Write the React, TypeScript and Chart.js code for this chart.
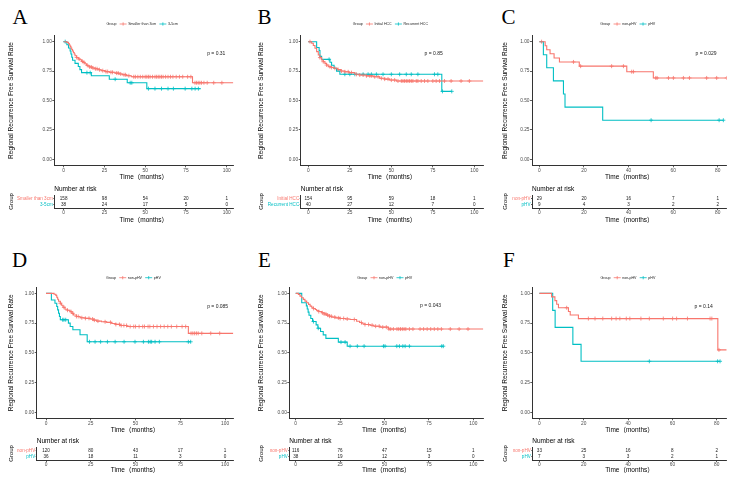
import React, { useEffect, useRef } from 'react';
import { Chart, registerables } from 'chart.js';

Chart.register(...registerables);

const RED = '#F8766D';
const BLUE = '#00BFC4';
const FONT = "'Liberation Sans', Arial, 'Noto Sans CJK SC', sans-serif";
const SERIF = "'Liberation Serif', 'Times New Roman', serif";

const Y_TICKS = [0, 0.25, 0.5, 0.75, 1];
const Y_TITLE = 'Regional Recurrence Free Survival Rate';
const X_TITLE = 'Time（months）';

// ---------------- Panel A ----------------
const A_groups = ['Smaller than 3cm', '3-5cm'];
const A_ticks = [0, 25, 50, 75, 100];
const A1_time = [0, 2, 3, 3.5, 4, 4.5, 5, 5.5, 6, 6.5, 7, 8, 9, 10, 11, 12, 13, 14, 15, 16, 17.5, 19, 21, 23, 25.5, 28, 31.5, 34, 36, 38.5, 41.5, 79];
const A1_surv = [1, 0.994, 0.985, 0.972, 0.96, 0.947, 0.934, 0.921, 0.908, 0.895, 0.88, 0.866, 0.853, 0.846, 0.833, 0.824, 0.812, 0.8, 0.792, 0.785, 0.777, 0.77, 0.762, 0.754, 0.746, 0.74, 0.733, 0.726, 0.719, 0.711, 0.702, 0.651];
const A1_end = 104;
const A1_censor = [8, 9.5, 11.5, 12.5, 14.5, 16, 17, 18, 19.5, 20.5, 22, 24, 26, 27, 29, 30, 32.5, 33.5, 35, 37, 38, 40, 43, 44, 45.5, 47, 48.5, 50, 51, 52, 53, 54.5, 56, 57, 58, 59, 60, 61, 62.5, 64, 65.5, 67, 69, 71, 73, 76, 78, 80.5, 81.5, 82.5, 83.5, 84.5, 86, 88, 92, 97];
const A2_time = [0, 2, 3, 4, 4.5, 5, 5.5, 7, 9, 10, 11, 17, 28, 39, 51];
const A2_surv = [1, 0.974, 0.947, 0.921, 0.895, 0.868, 0.842, 0.816, 0.789, 0.763, 0.737, 0.711, 0.681, 0.651, 0.601];
const A2_end = 84;
const A2_censor = [1, 14.3, 16.3, 31.6, 40.8, 41.8, 52, 56, 60, 64, 67.3, 74.5, 78.6, 80.6, 82.6];
const A1_risk = [158, 98, 54, 20, 1];
const A2_risk = [38, 24, 17, 5, 0];
const A_pval = 'p = 0.31';
const A_pvalAt = [88, 0.9];

// ---------------- Panel B ----------------
const B_groups = ['Initial HCC', 'Recurrent HCC'];
const B_ticks = [0, 25, 50, 75, 100];
const B1_time = [0, 2, 3, 4, 5, 6, 7, 8, 9, 10, 11, 12, 14, 15.5, 17.5, 19.5, 22, 24.5, 28, 31, 35, 39, 43, 46, 49, 53];
const B1_surv = [1, 0.987, 0.968, 0.944, 0.916, 0.887, 0.865, 0.844, 0.83, 0.816, 0.802, 0.788, 0.781, 0.774, 0.763, 0.751, 0.744, 0.737, 0.723, 0.717, 0.71, 0.702, 0.689, 0.682, 0.674, 0.666];
const B1_end = 105.4;
const B1_censor = [1, 7, 9, 11, 13, 14, 16, 18, 20, 22, 24, 26, 29, 31, 33, 35, 37, 38, 40, 42, 44, 46, 48, 50, 52, 54, 56, 57, 58, 59, 60, 61, 62, 63, 65, 66, 68, 70, 72, 75, 77, 79, 82, 86, 92, 97];
const B2_time = [0, 5, 6.5, 7, 8, 13, 14, 15.5, 17, 19, 80.4];
const B2_surv = [1, 0.95, 0.925, 0.875, 0.85, 0.825, 0.8, 0.775, 0.75, 0.723, 0.578];
const B2_end = 86.4;
const B2_censor = [12.5, 22, 25, 28, 33, 36, 38, 41, 45, 50, 55, 59, 62, 66, 76, 78, 80.8, 86.4];
const B1_risk = [154, 95, 59, 18, 1];
const B2_risk = [40, 27, 12, 7, 0];
const B_pval = 'p = 0.85';
const B_pvalAt = [70, 0.9];

// ---------------- Panel C ----------------
const C_groups = ['non-pHV', 'pHV'];
const C_ticks = [0, 20, 40, 60, 80];
const C1_time = [0, 2.6, 3.3, 4.8, 6.6, 9, 17.9, 39.2, 51.1];
const C1_surv = [1, 0.966, 0.931, 0.897, 0.862, 0.828, 0.792, 0.745, 0.692];
const C1_end = 84;
const C1_censor = [1, 15.3, 18.5, 32.4, 37.7, 41.4, 42.2, 52.2, 52.8, 57.9, 60.1, 64.6, 67.3, 75, 79.5, 84];
const C2_time = [0, 1.8, 3.3, 6.3, 10.8, 11.5, 28.4];
const C2_surv = [1, 0.889, 0.778, 0.667, 0.556, 0.444, 0.333];
const C2_end = 82.5;
const C2_censor = [50.1, 80.6, 82.5];
const C1_risk = [29, 20, 16, 7, 1];
const C2_risk = [9, 4, 3, 2, 2];
const C_pval = 'p = 0.029';
const C_pvalAt = [70, 0.9];

// ---------------- Panel D ----------------
const D_groups = ['non-pHV', 'pHV'];
const D_ticks = [0, 25, 50, 75, 100];
const D1_time = [0, 4.5, 5.5, 6, 6.5, 7, 8, 8.7, 9.5, 10.6, 12, 13.4, 14.5, 15.3, 17, 19, 22, 24.6, 26.5, 28.3, 31, 33.9, 36.7, 39, 41.3, 45.1, 79.5];
const D1_surv = [1, 0.992, 0.983, 0.967, 0.95, 0.933, 0.917, 0.9, 0.883, 0.867, 0.858, 0.846, 0.832, 0.818, 0.806, 0.795, 0.79, 0.784, 0.775, 0.767, 0.761, 0.756, 0.747, 0.739, 0.73, 0.721, 0.664];
const D1_end = 104.6;
const D1_censor = [8, 10, 12, 14, 15, 17, 18, 20, 22, 24, 26, 27, 29, 33, 36, 39, 41, 42, 43.5, 45, 47, 49, 50, 52, 54, 55, 57, 58, 60, 62, 64, 66, 68, 70, 73, 76, 78, 81, 82, 83, 84, 85, 87, 92, 97];
const D2_time = [0, 3, 5, 6, 6.5, 7, 7.5, 8, 12.5, 13.5, 15, 19, 23];
const D2_surv = [1, 0.944, 0.917, 0.889, 0.861, 0.833, 0.806, 0.778, 0.75, 0.722, 0.694, 0.652, 0.593];
const D2_end = 81;
const D2_censor = [9.3, 10, 11, 24.3, 27.4, 30.5, 34.3, 38.6, 43.6, 49.7, 54.4, 57.2, 58.2, 59, 60.9, 63.3, 79.5, 80.8];
const D1_risk = [120, 80, 43, 17, 1];
const D2_risk = [36, 18, 11, 3, 0];
const D_pval = 'p = 0.085';
const D_pvalAt = [90, 0.89];

// ---------------- Panel E ----------------
const E_groups = ['non-pHV', 'pHV'];
const E_ticks = [0, 25, 50, 75, 100];
const E1_time = [0, 1.5, 2.4, 3.3, 4.3, 5.2, 6.2, 7.2, 8.1, 9, 9.9, 11, 11.8, 13, 14.6, 16, 17.4, 19, 20.3, 22.5, 24.9, 28, 30.6, 34.3, 36, 37.1, 39, 41.8, 44, 47.5, 52.2];
const E1_surv = [1, 0.991, 0.977, 0.963, 0.949, 0.935, 0.921, 0.907, 0.893, 0.883, 0.873, 0.864, 0.856, 0.847, 0.837, 0.827, 0.817, 0.808, 0.8, 0.794, 0.789, 0.785, 0.78, 0.766, 0.755, 0.744, 0.738, 0.732, 0.724, 0.716, 0.7];
const E1_end = 105.6;
const E1_censor = [10, 13, 15, 16, 17, 18, 19, 20, 22, 24, 25, 27, 29, 33, 37, 39, 41, 43, 45, 47, 49, 51, 52.5, 53.5, 55, 57, 58, 59, 60, 61, 62, 64, 66, 70, 72, 74, 76, 78, 80, 82, 87, 92, 97];
const E2_time = [0, 3.4, 6, 6.5, 7, 7.5, 8.5, 9.5, 11.5, 12.5, 14, 15.5, 17, 24, 29];
const E2_surv = [1, 0.921, 0.895, 0.868, 0.842, 0.816, 0.789, 0.763, 0.735, 0.707, 0.679, 0.651, 0.622, 0.59, 0.556];
const E2_end = 83.1;
const E2_censor = [10, 12.7, 25.5, 27.8, 30.6, 34.7, 38.5, 49.4, 50.3, 56.9, 58.4, 60.3, 61.6, 64, 82.2, 83.1];
const E1_risk = [116, 76, 47, 15, 1];
const E2_risk = [38, 19, 12, 3, 0];
const E_pval = 'p = 0.043';
const E_pvalAt = [70, 0.9];

// ---------------- Panel F ----------------
const F_groups = ['non-pHV', 'pHV'];
const F_ticks = [0, 20, 40, 60, 80];
const F1_time = [0, 5.5, 7, 7.8, 8.6, 13.1, 13.9, 17.6, 80.5];
const F1_surv = [1, 0.97, 0.939, 0.909, 0.879, 0.848, 0.818, 0.788, 0.525];
const F1_end = 84.5;
const F1_censor = [12.3, 22.1, 25.1, 28.6, 32.6, 34.6, 36.3, 39.2, 40.8, 45.8, 49.6, 55.9, 60.1, 61.9, 66.8, 77, 77.8, 81];
const F2_time = [0, 6, 7.1, 15.1, 18.8];
const F2_surv = [1, 0.857, 0.714, 0.571, 0.429];
const F2_end = 81.5;
const F2_censor = [49.6, 80.4, 81.5];
const F1_risk = [33, 25, 16, 8, 2];
const F2_risk = [7, 3, 3, 2, 1];
const F_pval = 'p = 0.14';
const F_pvalAt = [70, 0.89];

type Series = { label: string; color: string; time: number[]; surv: number[]; end: number; censor: number[]; risk: number[] };
type PanelData = { letter: string; series: Series[]; ticks: number[]; pval: string; pvalAt: number[] };
type Layout = {
  x0: number; L: number; R: number; T: number; B: number; xmin: number; xmax: number;
  tT: number; tB: number; titleX: number; kmGap: number; tblGap: number;
  letterX: number; letterBase: number; legendDy: number;
};

const mk = (label: string, color: string, time: number[], surv: number[], end: number, censor: number[], risk: number[]): Series =>
  ({ label, color, time, surv, end, censor, risk });

const PANELS: PanelData[] = [
  { letter: 'A', ticks: A_ticks, pval: A_pval, pvalAt: A_pvalAt, series: [
    mk(A_groups[0], RED, A1_time, A1_surv, A1_end, A1_censor, A1_risk),
    mk(A_groups[1], BLUE, A2_time, A2_surv, A2_end, A2_censor, A2_risk)] },
  { letter: 'B', ticks: B_ticks, pval: B_pval, pvalAt: B_pvalAt, series: [
    mk(B_groups[0], RED, B1_time, B1_surv, B1_end, B1_censor, B1_risk),
    mk(B_groups[1], BLUE, B2_time, B2_surv, B2_end, B2_censor, B2_risk)] },
  { letter: 'C', ticks: C_ticks, pval: C_pval, pvalAt: C_pvalAt, series: [
    mk(C_groups[0], RED, C1_time, C1_surv, C1_end, C1_censor, C1_risk),
    mk(C_groups[1], BLUE, C2_time, C2_surv, C2_end, C2_censor, C2_risk)] },
  { letter: 'D', ticks: D_ticks, pval: D_pval, pvalAt: D_pvalAt, series: [
    mk(D_groups[0], RED, D1_time, D1_surv, D1_end, D1_censor, D1_risk),
    mk(D_groups[1], BLUE, D2_time, D2_surv, D2_end, D2_censor, D2_risk)] },
  { letter: 'E', ticks: E_ticks, pval: E_pval, pvalAt: E_pvalAt, series: [
    mk(E_groups[0], RED, E1_time, E1_surv, E1_end, E1_censor, E1_risk),
    mk(E_groups[1], BLUE, E2_time, E2_surv, E2_end, E2_censor, E2_risk)] },
  { letter: 'F', ticks: F_ticks, pval: F_pval, pvalAt: F_pvalAt, series: [
    mk(F_groups[0], RED, F1_time, F1_surv, F1_end, F1_censor, F1_risk),
    mk(F_groups[1], BLUE, F2_time, F2_surv, F2_end, F2_censor, F2_risk)] },
];

const TOP = { T: 35.8, B: 165.3, tT: 195, tB: 208, kmGap: 12.4, tblGap: 12.7, letterBase: 25, legendDy: 11.8 };
const BOT = { T: 287.4, B: 418.3, tT: 447, tB: 460, kmGap: 12.4, tblGap: 10, letterBase: 267.3, legendDy: 9.7 };

const LAYOUTS: Layout[] = [
  { ...TOP, x0: 0, L: 54.3, R: 233.3, xmin: -5.7, xmax: 104, titleX: 11.7, letterX: 12.5 },
  { ...TOP, x0: 245, L: 300.7, R: 483.3, xmin: -4.6, xmax: 105.4, titleX: 16.7, letterX: 257.5 },
  { ...TOP, x0: 490, L: 532, R: 726.7, xmin: -3.3, xmax: 84, titleX: 15, letterX: 501.5 },
  { ...BOT, x0: 0, L: 36.7, R: 233.3, xmin: -5.2, xmax: 104.6, titleX: 11.7, letterX: 12 },
  { ...BOT, x0: 245, L: 289.3, R: 483.3, xmin: -3.6, xmax: 105.6, titleX: 16, letterX: 258 },
  { ...BOT, x0: 490, L: 532.3, R: 726.7, xmin: -3.2, xmax: 84.5, titleX: 15, letterX: 503 },
];

function survAt(time: number[], surv: number[], t: number) {
  let s = surv[0];
  for (let i = 0; i < time.length; i++) if (time[i] <= t) s = surv[i];
  return s;
}

function geom(lay: Layout) {
  const cl = lay.x0;
  const cw = Math.ceil(lay.R + 8 - cl);
  const kt = Math.floor(lay.T - 20);
  const kh = Math.ceil(lay.B + lay.kmGap + 4 - kt);
  const tt = Math.floor(lay.tT - 13);
  const th = Math.ceil(lay.tB + lay.tblGap + 4 - tt);
  return { cl, cw, kt, kh, tt, th };
}

const kmLegendPlugin = {
  id: 'kmLegend',
  afterDraw(chart: any, _a: any, o: any) {
    const { ctx, chartArea: ca } = chart;
    ctx.save();
    ctx.font = `${o.size}px ${FONT}`;
    ctx.textBaseline = 'middle';
    ctx.textAlign = 'left';
    const gap = 1.6, sym = 7;
    const titleW = ctx.measureText(o.title).width;
    let w = titleW + gap * 2;
    o.items.forEach((it: any) => { w += sym + gap + ctx.measureText(it.label).width + gap * 2; });
    let x = (ca.left + ca.right) / 2 - w / 2;
    const y = ca.top - o.dy;
    ctx.fillStyle = '#1a1a1a';
    ctx.fillText(o.title, x, y);
    x += titleW + gap * 2;
    o.items.forEach((it: any) => {
      ctx.strokeStyle = it.color;
      ctx.lineWidth = 0.8;
      ctx.beginPath();
      ctx.moveTo(x, y); ctx.lineTo(x + sym, y);
      ctx.moveTo(x + sym / 2, y - 1.6); ctx.lineTo(x + sym / 2, y + 1.6);
      ctx.stroke();
      x += sym + gap;
      ctx.fillStyle = '#1a1a1a';
      ctx.fillText(it.label, x, y);
      x += ctx.measureText(it.label).width + gap * 2;
    });
    ctx.restore();
  },
};

const pvalPlugin = {
  id: 'pval',
  afterDatasetsDraw(chart: any, _a: any, o: any) {
    const { ctx, scales } = chart;
    ctx.save();
    ctx.font = `${o.size}px ${FONT}`;
    ctx.fillStyle = '#1a1a1a';
    ctx.textBaseline = 'middle';
    ctx.textAlign = 'left';
    ctx.fillText(o.text, scales.x.getPixelForValue(o.at[0]), scales.y.getPixelForValue(o.at[1]));
    ctx.restore();
  },
};

const riskPlugin = {
  id: 'risk',
  afterDatasetsDraw(chart: any, _a: any, o: any) {
    const { ctx, chartArea: ca } = chart;
    ctx.save();
    ctx.font = `${o.numSize}px ${FONT}`;
    ctx.fillStyle = '#1a1a1a';
    ctx.textAlign = 'center';
    ctx.textBaseline = 'middle';
    chart.data.datasets.forEach((ds: any, i: number) => {
      const meta = chart.getDatasetMeta(i);
      meta.data.forEach((el: any, j: number) => ctx.fillText(String(ds.counts[j]), el.x, el.y));
    });
    ctx.textAlign = 'left';
    ctx.fillStyle = '#000';
    ctx.font = `${o.headSize}px ${FONT}`;
    ctx.fillText(o.head, ca.left, ca.top - o.headDy);
    ctx.translate(o.titleX, (ca.top + ca.bottom) / 2);
    ctx.rotate(-Math.PI / 2);
    ctx.textAlign = 'center';
    ctx.font = `${o.groupSize}px ${FONT}`;
    ctx.fillText('Group', 0, 0);
    ctx.restore();
  },
};

function xScale(lay: Layout, ticks: number[], height: number, gap: number) {
  return {
    type: 'linear',
    min: lay.xmin,
    max: lay.xmax,
    afterBuildTicks: (s: any) => { s.ticks = ticks.map((v) => ({ value: v })); },
    afterFit: (s: any) => { s.height = height; },
    grid: { display: true, drawOnChartArea: false, drawTicks: true, tickLength: 2, color: '#333', tickColor: '#333', lineWidth: 0.8 },
    border: { display: true, color: '#333', width: 1 },
    ticks: { font: { size: 4.8, family: FONT }, color: '#4d4d4d', padding: 0, maxRotation: 0, autoSkip: false, callback: (v: any) => String(v) },
    title: { display: true, text: X_TITLE, color: '#000', font: { size: 6.5, family: FONT, lineHeight: 1 }, padding: { top: 0, bottom: Math.max(0, height - gap - 3.25) } },
  };
}

function kmConfig(d: PanelData, lay: Layout, g: any): any {
  const lines = d.series.map((s) => ({
    label: s.label,
    data: [...s.time.map((t, i) => ({ x: t, y: s.surv[i] })), { x: s.end, y: s.surv[s.surv.length - 1] }],
    showLine: true, stepped: true, borderColor: s.color, backgroundColor: s.color,
    borderWidth: 1.1, pointRadius: 0, fill: false, tension: 0,
  }));
  const marks = d.series.map((s) => ({
    label: s.label + ' censor',
    data: s.censor.map((t) => ({ x: t, y: survAt(s.time, s.surv, t) })),
    showLine: false, pointStyle: 'cross', pointRadius: 2, borderWidth: 0.8,
    borderColor: s.color, backgroundColor: s.color,
  }));
  const xh = g.kt + g.kh - lay.B;
  return {
    type: 'scatter',
    data: { datasets: [...lines, ...marks] },
    options: {
      responsive: false, animation: false, events: [],
      layout: { padding: { left: 0, top: lay.T - g.kt, right: g.cl + g.cw - lay.R, bottom: 0 } },
      plugins: {
        legend: { display: false }, tooltip: { enabled: false },
        kmLegend: { title: 'Group', size: 3.6, dy: lay.legendDy, items: d.series.map((s) => ({ label: s.label, color: s.color })) },
        pval: { text: d.pval, at: d.pvalAt, size: 5 },
      },
      scales: {
        x: xScale(lay, d.ticks, xh, lay.kmGap),
        y: {
          type: 'linear', min: -0.05, max: 1.05,
          afterBuildTicks: (s: any) => { s.ticks = Y_TICKS.map((v) => ({ value: v })); },
          afterFit: (s: any) => { s.width = lay.L - g.cl; },
          grid: { display: true, drawOnChartArea: false, drawTicks: true, tickLength: 2, color: '#333', tickColor: '#333', lineWidth: 0.8 },
          border: { display: true, color: '#333', width: 1 },
          ticks: { font: { size: 4.8, family: FONT }, color: '#4d4d4d', padding: 0.5, callback: (v: any) => Number(v).toFixed(2) },
          title: { display: true, text: Y_TITLE, color: '#000', font: { size: 6.5, family: FONT, lineHeight: 1 }, padding: { top: lay.titleX - 3.25, bottom: 0 } },
        },
      },
    },
    plugins: [kmLegendPlugin, pvalPlugin],
  };
}

function tblConfig(d: PanelData, lay: Layout, g: any): any {
  const labels = d.series.map((s) => s.label);
  const colors = d.series.map((s) => s.color);
  const datasets = d.series.map((s, i) => ({
    label: s.label,
    data: d.ticks.map((t) => ({ x: t, y: 2 - i })),
    counts: s.risk,
    showLine: false, pointRadius: 0,
  }));
  const xh = g.tt + g.th - lay.tB;
  return {
    type: 'scatter',
    data: { datasets },
    options: {
      responsive: false, animation: false, events: [],
      layout: { padding: { left: 0, top: lay.tT - g.tt, right: g.cl + g.cw - lay.R, bottom: 0 } },
      plugins: {
        legend: { display: false }, tooltip: { enabled: false },
        risk: { numSize: 4.6, head: 'Number at risk', headSize: 6.5, headDy: 6, groupSize: 6, titleX: lay.titleX },
      },
      scales: {
        x: xScale(lay, d.ticks, xh, lay.tblGap),
        y: {
          type: 'linear', min: 0.5, max: 2.5,
          afterBuildTicks: (s: any) => { s.ticks = [{ value: 1 }, { value: 2 }]; },
          afterFit: (s: any) => { s.width = lay.L - g.cl; },
          grid: { display: true, drawOnChartArea: false, drawTicks: true, tickLength: 1, color: '#333', tickColor: '#333', lineWidth: 0.8 },
          border: { display: true, color: '#333', width: 1 },
          ticks: {
            font: { size: 4.6, family: FONT }, padding: 0.5,
            color: (c: any) => (c.tick && c.tick.value === 2 ? colors[0] : colors[1]),
            callback: (v: any) => (Number(v) === 2 ? labels[0] : labels[1]),
          },
        },
      },
    },
    plugins: [riskPlugin],
  };
}

function Panel({ d, lay }: { d: PanelData; lay: Layout }) {
  const kmRef = useRef<HTMLCanvasElement>(null);
  const tbRef = useRef<HTMLCanvasElement>(null);
  const g = geom(lay);
  useEffect(() => {
    const km = new Chart(kmRef.current as HTMLCanvasElement, kmConfig(d, lay, g));
    const tb = new Chart(tbRef.current as HTMLCanvasElement, tblConfig(d, lay, g));
    return () => { km.destroy(); tb.destroy(); };
  }, []);
  return (
    <>
      <div style={{ position: 'absolute', left: lay.letterX, top: lay.letterBase - 17.6, fontFamily: SERIF, fontSize: 21, lineHeight: '21px', color: '#000' }}>{d.letter}</div>
      <canvas ref={kmRef} width={g.cw} height={g.kh} style={{ position: 'absolute', left: g.cl, top: g.kt, width: g.cw, height: g.kh }} />
      <canvas ref={tbRef} width={g.cw} height={g.th} style={{ position: 'absolute', left: g.cl, top: g.tt, width: g.cw, height: g.th }} />
    </>
  );
}

export default function App() {
  return (
    <div style={{ position: 'fixed', left: 0, top: 0, width: 740, height: 485, background: '#fff', overflow: 'hidden' }}>
      {PANELS.map((d, i) => (
        <Panel key={d.letter} d={d} lay={LAYOUTS[i]} />
      ))}
    </div>
  );
}
